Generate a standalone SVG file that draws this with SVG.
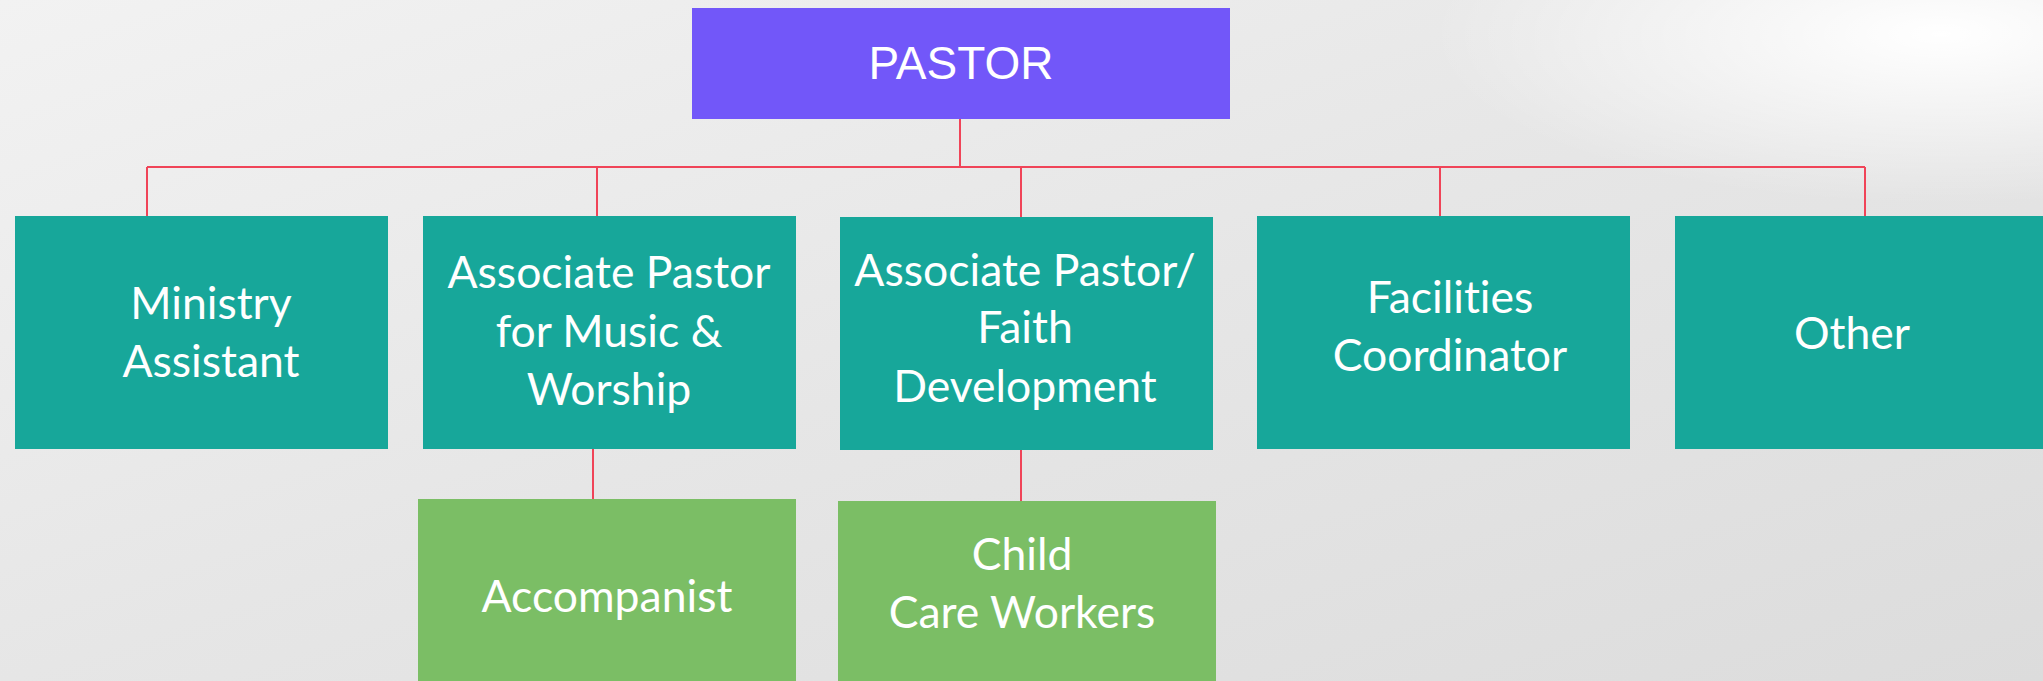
<svg xmlns="http://www.w3.org/2000/svg" width="2043" height="681" viewBox="0 0 2043 681">
<defs>
<linearGradient id="bg" x1="0" y1="0" x2="1" y2="1">
<stop offset="0" stop-color="#f2f2f2"/>
<stop offset="0.5" stop-color="#e6e6e6"/>
<stop offset="1" stop-color="#dcdcdc"/>
</linearGradient>
<radialGradient id="glow" cx="0.95" cy="0.05" r="0.25">
<stop offset="0" stop-color="#ffffff"/>
<stop offset="1" stop-color="#ffffff" stop-opacity="0"/>
</radialGradient>
</defs>
<style>
.pastor{fill:#7257f9}
.teal{fill:#17a79a}
.green{fill:#7bbe65}
.conn{stroke:#f04458;stroke-width:2;fill:none}
.t{font-family:Lato,"Open Sans",sans-serif;font-size:44.5px;fill:#ffffff;text-anchor:middle;font-variant-ligatures:none;font-feature-settings:"liga" 0,"clig" 0}
.tp{font-family:"Liberation Sans",Arial,sans-serif;font-size:46px;fill:#ffffff;text-anchor:middle}
</style>
<rect x="0" y="0" width="2043" height="681" fill="url(#bg)"/>
<rect x="0" y="0" width="2043" height="681" fill="url(#glow)"/>
<g id="connectors">
<line class="conn" x1="960" y1="119" x2="960" y2="167"/>
<line class="conn" x1="147" y1="167" x2="1865" y2="167"/>
<line class="conn" x1="147" y1="167" x2="147" y2="216"/>
<line class="conn" x1="597" y1="167" x2="597" y2="216"/>
<line class="conn" x1="1021" y1="167" x2="1021" y2="217"/>
<line class="conn" x1="1440" y1="167" x2="1440" y2="216"/>
<line class="conn" x1="1865" y1="167" x2="1865" y2="216"/>
<line class="conn" x1="593" y1="449" x2="593" y2="499"/>
<line class="conn" x1="1021" y1="450" x2="1021" y2="501"/>
</g>
<g id="pastor">
<rect class="pastor" x="692" y="8" width="538" height="111"/>
<text class="tp" x="961" y="79">PASTOR</text>
</g>
<g id="ministry-assistant">
<rect class="teal" x="15" y="216" width="373" height="233"/>
<text class="t" x="211" y="319">Ministry</text>
<text class="t" x="211" y="377">Assistant</text>
</g>
<g id="assoc-music">
<rect class="teal" x="423" y="216" width="373" height="233"/>
<text class="t" x="609" y="288">Associate Pastor</text>
<text class="t" x="609" y="347">for Music &amp;</text>
<text class="t" x="609" y="405">Worship</text>
</g>
<g id="assoc-faith">
<rect class="teal" x="840" y="217" width="373" height="233"/>
<text class="t" x="1025" y="286">Associate Pastor/</text>
<text class="t" x="1025" y="343">Faith</text>
<text class="t" x="1025" y="402">Development</text>
</g>
<g id="facilities">
<rect class="teal" x="1257" y="216" width="373" height="233"/>
<text class="t" x="1450" y="313">Facilities</text>
<text class="t" x="1450" y="371">Coordinator</text>
</g>
<g id="other">
<rect class="teal" x="1675" y="216" width="368" height="233"/>
<text class="t" x="1852" y="349">Other</text>
</g>
<g id="accompanist">
<rect class="green" x="418" y="499" width="378" height="182"/>
<text class="t" x="607" y="612">Accompanist</text>
</g>
<g id="child-care">
<rect class="green" x="838" y="501" width="378" height="180"/>
<text class="t" x="1022" y="570">Child</text>
<text class="t" x="1022" y="628">Care Workers</text>
</g>
</svg>
